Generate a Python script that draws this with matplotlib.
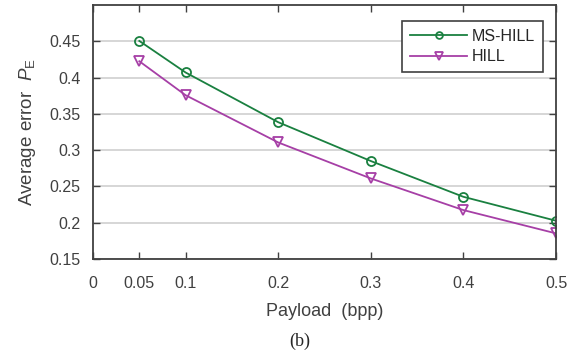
import matplotlib
matplotlib.use('Agg')
import matplotlib.pyplot as plt

payload = [0.05, 0.1, 0.2, 0.3, 0.4, 0.5]
ms_hill = [0.4505, 0.407, 0.3385, 0.285, 0.2357, 0.2027]
hill = [0.4225, 0.3757, 0.3106, 0.261, 0.2174, 0.1853]
xticks = [0, 0.05, 0.1, 0.2, 0.3, 0.4, 0.5]
xticklabels = ['0', '0.05', '0.1', '0.2', '0.3', '0.4', '0.5']
yticks = [0.15, 0.2, 0.25, 0.3, 0.35, 0.4, 0.45]

plt.rcParams['font.family'] = 'Liberation Sans'
plt.rcParams['mathtext.fontset'] = 'custom'
plt.rcParams['mathtext.rm'] = 'Liberation Sans'
plt.rcParams['mathtext.it'] = 'Liberation Sans:italic'

green = '#1a8040'
magenta = '#a63fa6'
grey = '#404040'

fig = plt.figure(figsize=(5.75, 3.55), dpi=100)
ax = fig.add_axes([93 / 575, 1 - 259 / 355, 463 / 575, 254 / 355])

ax.plot(payload, ms_hill, '-o', color=green, lw=1.3, ms=6.5, mfc='none', mew=1.3,
        label='MS-HILL')
ax.plot(payload, hill, '-v', color=magenta, lw=1.3, ms=7.5, mfc='none', mew=1.3,
        label='HILL')

ax.set_xlim(0, 0.5)
ax.set_ylim(0.15, 0.5)
ax.set_xticks(xticks)
ax.set_xticklabels(xticklabels)
ax.set_yticks(yticks)
ax.set_yticklabels(['0.15', '0.2', '0.25', '0.3', '0.35', '0.4', '0.45'])
ax.yaxis.grid(True, color='#d0d0d0', lw=1.2)
ax.set_axisbelow(True)
ax.tick_params(direction='in', top=True, right=True, length=5, width=1,
               color=grey, labelcolor=grey, labelsize=11.5)
ax.tick_params(axis='x', pad=12)
ax.tick_params(axis='y', pad=9)
for s in ax.spines.values():
    s.set_color(grey)
    s.set_linewidth(1.3)

ax.set_xlabel('Payload  (bpp)', fontsize=13, color=grey, labelpad=9)
ax.set_ylabel(r'Average error  $\mathit{P}_{\mathrm{E}}$', fontsize=13.5,
              color=grey, labelpad=8)

leg = ax.legend(loc='upper right', bbox_to_anchor=(0.99, 0.97), fontsize=11.5,
                fancybox=False, framealpha=1, edgecolor=grey, markerscale=0.75,
                handlelength=3.6, handletextpad=0.3, borderpad=0.5,
                labelspacing=0.35)
leg.get_frame().set_linewidth(1.2)
for t in leg.get_texts():
    t.set_color('#262626')

fig.text(300 / 575, 1 - 341 / 355, '(b)', fontsize=13, family='Liberation Serif',
         ha='center', va='center', color='#262626')

fig.savefig('out.png', dpi=100)
